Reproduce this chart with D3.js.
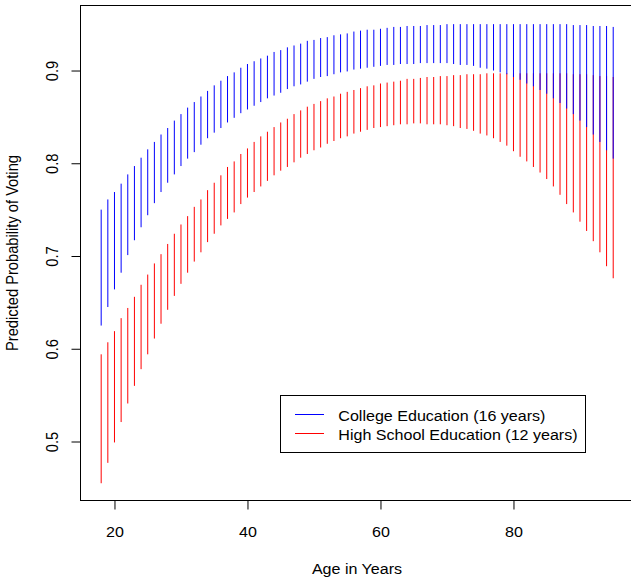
<!DOCTYPE html>
<html>
<head>
<meta charset="utf-8">
<script src="https://cdn.jsdelivr.net/npm/d3@7"></script>
<style>
  body { margin: 0; background: #fff; }
  svg text { font-family: "Liberation Sans", Arial, sans-serif; font-size: 14.7px; fill: #000; }
</style>
</head>
<body>
<svg id="chart"></svg>
<script>
// predicted probability of voting by age, 95% intervals
const ages = [18, 19, 20, 21, 22, 23, 24, 25, 26, 27,
    28, 29, 30, 31, 32, 33, 34, 35, 36, 37,
    38, 39, 40, 41, 42, 43, 44, 45, 46, 47,
    48, 49, 50, 51, 52, 53, 54, 55, 56, 57,
    58, 59, 60, 61, 62, 63, 64, 65, 66, 67,
    68, 69, 70, 71, 72, 73, 74, 75, 76, 77,
    78, 79, 80, 81, 82, 83, 84, 85, 86, 87,
    88, 89, 90, 91, 92, 93, 94, 95]

const collegeUpper = [0.750, 0.761, 0.769, 0.778, 0.788, 0.797, 0.806, 0.815, 0.823, 0.831,
    0.838, 0.846, 0.853, 0.860, 0.866, 0.872, 0.878, 0.884, 0.889, 0.894,
    0.898, 0.903, 0.907, 0.910, 0.913, 0.916, 0.920, 0.922, 0.925, 0.927,
    0.929, 0.932, 0.933, 0.935, 0.936, 0.938, 0.939, 0.940, 0.942, 0.943,
    0.944, 0.944, 0.945, 0.946, 0.947, 0.947, 0.948, 0.948, 0.948, 0.949,
    0.949, 0.949, 0.950, 0.950, 0.950, 0.950, 0.950, 0.950, 0.950, 0.950,
    0.950, 0.950, 0.950, 0.950, 0.950, 0.950, 0.950, 0.950, 0.950, 0.950,
    0.950, 0.949, 0.949, 0.949, 0.948, 0.948, 0.948, 0.947]

const collegeLower = [0.625, 0.645, 0.664, 0.682, 0.701, 0.717, 0.731, 0.744, 0.757, 0.769,
    0.779, 0.788, 0.797, 0.805, 0.812, 0.820, 0.827, 0.833, 0.838, 0.844,
    0.849, 0.854, 0.858, 0.862, 0.866, 0.870, 0.873, 0.876, 0.880, 0.883,
    0.885, 0.888, 0.891, 0.893, 0.894, 0.896, 0.898, 0.899, 0.901, 0.902,
    0.903, 0.904, 0.905, 0.906, 0.906, 0.907, 0.907, 0.907, 0.908, 0.908,
    0.908, 0.908, 0.908, 0.907, 0.906, 0.906, 0.905, 0.903, 0.902, 0.900,
    0.898, 0.896, 0.893, 0.890, 0.886, 0.883, 0.879, 0.875, 0.870, 0.865,
    0.859, 0.853, 0.846, 0.839, 0.831, 0.823, 0.814, 0.805]

const highSchoolUpper = [0.594, 0.607, 0.619, 0.633, 0.644, 0.656, 0.669, 0.680, 0.692, 0.702,
    0.713, 0.724, 0.734, 0.743, 0.753, 0.761, 0.771, 0.779, 0.787, 0.796,
    0.802, 0.810, 0.816, 0.823, 0.829, 0.834, 0.839, 0.844, 0.848, 0.853,
    0.857, 0.861, 0.864, 0.867, 0.870, 0.872, 0.875, 0.877, 0.879, 0.881,
    0.883, 0.884, 0.886, 0.887, 0.888, 0.889, 0.891, 0.891, 0.892, 0.893,
    0.893, 0.894, 0.894, 0.895, 0.895, 0.896, 0.896, 0.896, 0.897, 0.897,
    0.897, 0.897, 0.897, 0.897, 0.897, 0.897, 0.897, 0.897, 0.897, 0.897,
    0.897, 0.896, 0.896, 0.896, 0.895, 0.894, 0.894, 0.893]

const highSchoolLower = [0.455, 0.477, 0.499, 0.521, 0.541, 0.560, 0.578, 0.594, 0.611, 0.627,
    0.642, 0.657, 0.670, 0.682, 0.694, 0.704, 0.715, 0.724, 0.733, 0.740,
    0.747, 0.756, 0.763, 0.769, 0.775, 0.781, 0.787, 0.792, 0.796, 0.801,
    0.806, 0.810, 0.814, 0.817, 0.821, 0.824, 0.827, 0.829, 0.832, 0.834,
    0.836, 0.838, 0.839, 0.840, 0.841, 0.842, 0.842, 0.843, 0.843, 0.842,
    0.842, 0.842, 0.841, 0.840, 0.838, 0.837, 0.835, 0.832, 0.830, 0.827,
    0.823, 0.819, 0.813, 0.807, 0.802, 0.796, 0.790, 0.783, 0.775, 0.766,
    0.756, 0.747, 0.737, 0.727, 0.716, 0.704, 0.689, 0.676]

const xTicks = [20, 40, 60, 80]
const yTicks = [0.5, 0.6, 0.7, 0.8, 0.9]
const seriesNames = ["College Education (16 years)", "High School Education (12 years)"]
const seriesColors = ["blue", "red"]

// constants
const width = 631
const height = 577
const box = { left: 80.5, right: 633.5, top: 5.5, bottom: 500.5 }
const stretch = 631 / 577   // text in the original is a bit wider than tall

const xLim = [14.92, 98.08]
const yLim = [0.4364, 0.9701]

const svg = d3.select('svg#chart').attr('width', width).attr('height', height)

const x = d3.scaleLinear().domain(xLim).range([80.7, 633.7])
const y = d3.scaleLinear().domain(yLim).range([box.bottom, box.top])

// interval segments, high school first so college sits on top
const hs = ages.map((a, i) => ({ age: a, lo: highSchoolLower[i], hi: highSchoolUpper[i] }))
const col = ages.map((a, i) => ({ age: a, lo: collegeLower[i], hi: collegeUpper[i] }))

function drawSegments(rows, color) {
    svg.append('g').selectAll('line').data(rows)
        .enter().append('line')
        .attr('x1', d => x(d.age))
        .attr('x2', d => x(d.age))
        .attr('y1', d => y(d.lo))
        .attr('y2', d => y(d.hi))
        .attr('stroke', color)
        .attr('stroke-width', 1)
}
drawSegments(hs, seriesColors[1])
drawSegments(col, seriesColors[0])

// box
svg.append('rect')
    .attr('x', box.left).attr('y', box.top)
    .attr('width', box.right - box.left).attr('height', box.bottom - box.top)
    .attr('fill', 'none').attr('stroke', '#000').attr('stroke-width', 1)

// x axis
const xAxis = svg.append('g')
    .attr('transform', 'translate(0,' + box.bottom + ')')
    .call(d3.axisBottom(x).tickValues(xTicks).tickSize(9).tickFormat(d3.format('d')))
xAxis.select('.domain').remove()
xAxis.selectAll('.tick line').attr('stroke', '#000')
xAxis.selectAll('.tick text')
    .attr('y', null).attr('dy', null)
    .attr('font-size', null).attr('font-family', null)
    .attr('transform', 'translate(0,36.2) scale(' + stretch + ',1)')
xAxis.append('line')
    .attr('x1', x(xTicks[0])).attr('x2', x(xTicks[xTicks.length - 1]))
    .attr('stroke', '#000')

// y axis
const yAxis = svg.append('g')
    .attr('transform', 'translate(' + box.left + ',0)')
    .call(d3.axisLeft(y).tickValues(yTicks).tickSize(9).tickFormat(d3.format('.1f')))
yAxis.select('.domain').remove()
yAxis.selectAll('.tick line').attr('stroke', '#000')
yAxis.selectAll('.tick text')
    .attr('x', null).attr('dy', null)
    .attr('font-size', null).attr('font-family', null)
    .attr('text-anchor', 'middle')
    .attr('transform', 'translate(-22.2,0) scale(' + stretch + ',1) rotate(-90)')
yAxis.append('line')
    .attr('y1', y(yTicks[0])).attr('y2', y(yTicks[yTicks.length - 1]))
    .attr('stroke', '#000')

// axis labels
svg.append('text')
    .attr('text-anchor', 'middle')
    .attr('transform', 'translate(' + ((box.left + box.right) / 2) + ',573.5) scale(' + stretch + ',1)')
    .text('Age in Years')

svg.append('text')
    .attr('text-anchor', 'middle')
    .attr('transform', 'translate(18.3,' + ((box.top + box.bottom) / 2) + ') scale(' + stretch + ',1) rotate(-90)')
    .text('Predicted Probability of Voting')

// legend, anchored at (45, 0.55) like legend(45, .55, ...)
const lgLeft = Math.floor(x(45)) + 0.5
const lgTop = Math.floor(y(0.55)) + 0.5
const legend = svg.append('g')
const lgRect = legend.append('rect')
    .attr('x', lgLeft).attr('y', lgTop)
    .attr('height', 57)
    .attr('fill', '#fff').attr('stroke', '#000').attr('stroke-width', 1)

let maxW = 0
seriesNames.forEach(function (name, i) {
    let rowY = lgTop + 19 + i * 19
    legend.append('line')
        .attr('x1', lgLeft + 14.5).attr('x2', lgLeft + 43.5)
        .attr('y1', rowY).attr('y2', rowY)
        .attr('stroke', seriesColors[i]).attr('stroke-width', 1)
    let t = legend.append('text')
        .attr('transform', 'translate(' + (lgLeft + 57.8) + ',' + (rowY + 6.2) + ') scale(' + stretch + ',1)')
        .text(name)
    maxW = Math.max(maxW, t.node().getComputedTextLength() * stretch)
})
lgRect.attr('width', Math.round(57.8 + maxW + 7.6))
</script>
</body>
</html>
